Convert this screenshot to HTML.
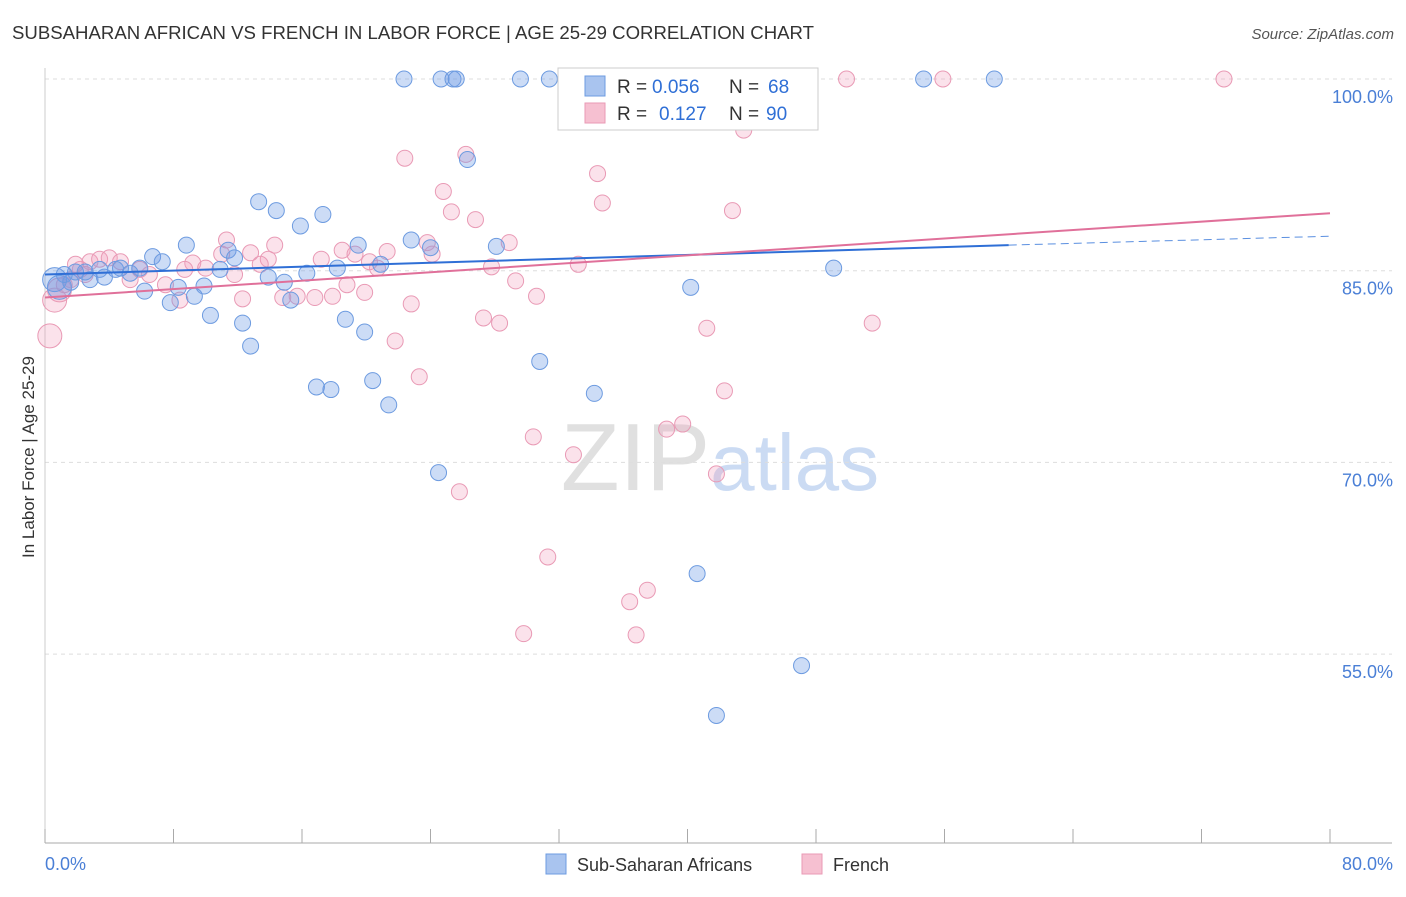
<!DOCTYPE html>
<html><head><meta charset="utf-8"><style>
body{margin:0;background:#fff;font-family:"Liberation Sans",sans-serif;}
svg text{font-family:"Liberation Sans",sans-serif;}
</style></head><body>
<svg id="chart" width="1406" height="892" xmlns="http://www.w3.org/2000/svg">
<text x="12" y="39" font-size="18" fill="#333" textLength="802" lengthAdjust="spacingAndGlyphs">SUBSAHARAN AFRICAN VS FRENCH IN LABOR FORCE | AGE 25-29 CORRELATION CHART</text>
<text x="1394" y="39" font-size="15" fill="#555" text-anchor="end" font-style="italic">Source: ZipAtlas.com</text>
<text x="720" y="490" font-size="96" text-anchor="middle" fill="#ccc" opacity="0.6" font-family="Liberation Serif"><tspan>ZIP</tspan><tspan fill="#a9c4ec" font-family="Liberation Sans" font-size="80">atlas</tspan></text>
<text transform="translate(34,457) rotate(-90)" font-size="17" fill="#333" text-anchor="middle">In Labor Force | Age 25-29</text>
<g id="grid"></g><g id="pts"></g><g id="lines"></g>
<g>
<rect x="558" y="68" width="260" height="62" fill="#fff" stroke="#ccc"/>
<rect x="585" y="76" width="20" height="20" fill="#a9c4ef" stroke="#6d9be0"/>
<text x="617" y="93" font-size="19" fill="#333">R =</text>
<text x="652" y="93" font-size="19" fill="#2f6fd6">0.056</text>
<text x="729" y="93" font-size="19" fill="#333">N =</text>
<text x="768" y="93" font-size="19" fill="#2f6fd6">68</text>
<rect x="585" y="103" width="20" height="20" fill="#f6c0d1" stroke="#e99ab5"/>
<text x="617" y="120" font-size="19" fill="#333">R =</text>
<text x="659" y="120" font-size="19" fill="#2f6fd6">0.127</text>
<text x="729" y="120" font-size="19" fill="#333">N =</text>
<text x="766" y="120" font-size="19" fill="#2f6fd6">90</text>
</g>
<g>
<rect x="546" y="854" width="20" height="20" fill="#a9c4ef" stroke="#6d9be0"/>
<text x="577" y="871" font-size="18" fill="#333">Sub-Saharan Africans</text>
<rect x="802" y="854" width="20" height="20" fill="#f6c0d1" stroke="#e99ab5"/>
<text x="833" y="871" font-size="18" fill="#333">French</text>
</g>
</svg>
<script>
const yTicks=[100,85,70,55];
const xTickVals=[0,8,16,24,32,40,48,56,64,72,80];
const xLabels=["0.0%","80.0%"];
const blueX=[22.35,24.66,25.4,25.6,29.6,31.4,54.7,59.1,34.2,13.3,14.4,17.3,15.9,26.3,22.8,19.5,28.1,24.0,8.8,11.4,6.7,7.3,11.8,20.9,18.2,16.3,10.9,13.9,14.9,15.3,9.3,7.8,8.3,9.9,10.3,12.3,12.8,18.7,19.9,6.2,30.8,16.9,17.8,20.4,21.4,34.2,40.2,49.1,24.5,40.6,47.1,41.8,0.6,0.9,1.6,2.8,3.7,4.4,4.7,5.3,5.9,1.9,1.2,2.5,3.4];
const blueY=[100,100,100,100,100,100,100,100,100,90.4,89.7,89.4,88.5,93.7,87.4,87.0,86.9,86.8,87.0,86.6,86.1,85.7,86.0,85.5,85.2,84.8,85.1,84.5,84.1,82.7,83.0,82.5,83.7,83.8,81.5,80.9,79.1,81.2,80.2,83.4,77.9,75.9,75.7,76.4,74.5,75.4,83.7,85.2,69.2,61.3,54.1,50.2,84.3,83.7,84.1,84.3,84.5,85.1,85.2,84.8,85.2,84.9,84.7,84.9,85.1];
const pinkX=[32.9,37.9,40.8,44.9,49.9,55.9,73.4,35.7,22.4,26.2,43.5,34.4,24.8,34.7,25.3,26.8,42.8,11.3,14.3,23.8,28.9,21.3,18.5,24.1,19.3,20.2,20.7,17.2,13.9,12.8,11.0,9.2,8.7,10.0,11.8,13.4,33.2,27.8,29.3,18.8,19.9,17.9,16.8,15.7,14.8,12.3,8.4,22.8,30.6,27.3,28.3,41.2,51.5,21.8,23.3,42.3,30.4,32.9,38.7,39.7,41.8,25.8,31.3,36.4,37.5,29.8,36.8,0.3,0.6,0.9,1.6,2.2,2.8,3.4,4.0,4.7,5.3,6.5,7.5,5.9,2.5,1.9,1.2];
const pinkY=[100,100,100,100,100,100,100,100,93.8,94.1,96.0,92.6,91.2,90.3,89.6,89.0,89.7,87.4,87.0,87.2,87.2,86.5,86.6,86.3,86.3,85.7,85.2,85.9,85.9,86.4,86.3,85.6,85.1,85.2,84.7,85.5,85.5,85.3,84.2,83.9,83.3,83.0,82.9,83.0,82.9,82.8,82.7,82.4,83.0,81.3,80.9,80.5,80.9,79.5,76.7,75.6,72.0,70.6,72.6,73.0,69.1,67.7,62.6,59.1,60.0,56.6,56.5,79.9,82.7,83.5,84.3,85.1,85.7,85.9,86.0,85.7,84.3,84.7,83.9,85.1,84.7,85.5,83.9];
const blueTrend=[84.7,87.0,87.7];
const blueTrendX=[0,60,80];
const pinkTrend=[82.9,89.5];
const pinkTrendX=[0,80];
const NS="http://www.w3.org/2000/svg";
const X=v=>45+v*(1330-45)/80;
const Y=v=>79+(100-v)*12.78;
function mk(tag,attrs,parent){const e=document.createElementNS(NS,tag);for(const k in attrs)e.setAttribute(k,attrs[k]);document.getElementById(parent).appendChild(e);return e;}
for(const t of yTicks){
 const l=mk('line',{x1:45,x2:1392,y1:Y(t),y2:Y(t),stroke:'#ddd','stroke-dasharray':'4,4'},'grid');
 
 
 const tx=mk('text',{x:1393,y:Y(t)+24,'font-size':18,fill:'#4a7fd6','text-anchor':'end'},'grid');
 tx.textContent=t.toFixed(1)+'%';
 
 
}
const ax=mk('line',{x1:45,x2:1392,y1:843,y2:843,stroke:'#aaa'},'grid');


const ay=mk('line',{x1:45,x2:45,y1:68,y2:843,stroke:'#ccc'},'grid');


for(const v of xTickVals){
 const t=mk('line',{x1:X(v),x2:X(v),y1:829,y2:843,stroke:'#aaa'},'grid');
 
 
}
const l0=mk('text',{x:45,y:870,'font-size':18,fill:'#4a7fd6'},'grid');l0.textContent=xLabels[0];


const l1=mk('text',{x:1393,y:870,'font-size':18,fill:'#4a7fd6','text-anchor':'end'},'grid');l1.textContent=xLabels[1];


function pts(xs,ys,fill,stroke,name){
 xs.forEach((x,i)=>{const r=x<1?12:8;
  const c=mk('circle',{cx:X(x),cy:Y(ys[i]),r:r,fill:fill,stroke:stroke,'stroke-width':1},'pts');
  
  });
}
pts(pinkX,pinkY,'rgba(243,160,188,0.3)','#e99ab5','french-point');
pts(blueX,blueY,'rgba(110,155,228,0.35)','#6d9be0','subsaharan-point');
const b1=mk('line',{x1:X(blueTrendX[0]),y1:Y(blueTrend[0]),x2:X(blueTrendX[1]),y2:Y(blueTrend[1]),stroke:'#2f6fd6','stroke-width':2},'lines');


const b2=mk('line',{x1:X(blueTrendX[1]),y1:Y(blueTrend[1]),x2:X(blueTrendX[2]),y2:Y(blueTrend[2]),stroke:'#5a8fe0','stroke-width':1,'stroke-dasharray':'8,5'},'lines');


const p1=mk('line',{x1:X(pinkTrendX[0]),y1:Y(pinkTrend[0]),x2:X(pinkTrendX[1]),y2:Y(pinkTrend[1]),stroke:'#e0709a','stroke-width':2},'lines');


</script>
</body></html>
